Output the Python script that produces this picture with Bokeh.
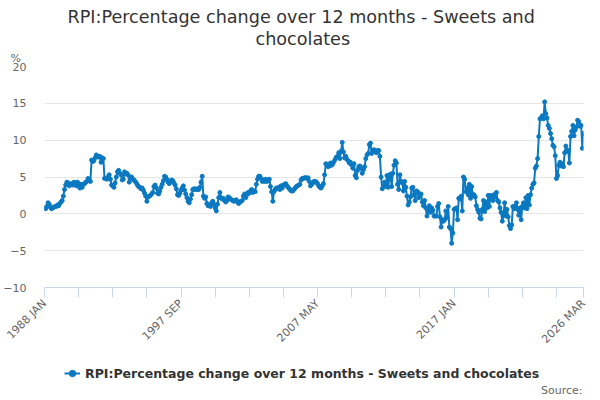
import math
from bokeh.plotting import figure
from bokeh.layouts import column
from bokeh.models import (Range1d, FixedTicker, Title, Label, Legend, LegendItem,
                          ColumnDataSource)
from bokeh.embed import file_html
from bokeh.resources import INLINE

MONTHS = ["JAN", "FEB", "MAR", "APR", "MAY", "JUN",
          "JUL", "AUG", "SEP", "OCT", "NOV", "DEC"]
START_YEAR = 1988

vals_1988_1995 = [
    0.8, 0.7, 1.0, 1.5, 1.3, 0.9, 0.7, 0.8, 0.9, 1.0, 1.0, 1.2,
    1.1, 1.4, 1.6, 1.8, 2.4, 3.3, 3.9, 4.3, 4.2, 3.8, 4.0, 4.1,
    3.9, 4.3, 4.2, 3.8, 4.3, 4.1, 3.5, 4.0, 3.6, 4.0, 4.1, 4.3,
    4.4, 4.8, 4.5, 4.4, 7.3, 7.1, 7.2, 7.6, 8.0, 7.8, 7.7, 7.8,
    7.0, 7.6, 7.5, 4.8, 4.8, 4.7, 5.0, 5.3, 4.7, 3.9, 3.8, 3.6,
    4.2, 5.0, 5.7, 5.9, 5.5, 5.3, 4.6, 4.7, 5.7, 5.4, 5.5, 5.3,
    4.3, 4.8, 5.0, 4.7, 4.6, 4.4, 4.2, 3.9, 3.7, 3.6, 3.4, 3.5,
    3.2, 2.8, 2.4, 1.7, 2.3, 2.4, 2.5, 2.7, 2.9, 3.7, 3.9, 3.5,
]
vals_1996_2003 = [
    2.8, 2.7, 3.1, 3.6, 4.0, 4.5, 5.1, 5.0, 4.7, 4.3, 4.1, 4.4,
    4.6, 4.5, 4.2, 3.9, 3.4, 2.6, 2.5, 2.8, 3.2, 3.5, 3.8, 3.2,
    2.7, 2.2, 1.7, 1.5, 2.0, 2.6, 3.3, 3.4, 3.3, 3.4, 3.3, 3.3,
    3.6, 4.3, 5.1, 2.4, 2.1, 2.3, 1.4, 1.1, 1.2, 1.0, 1.5, 1.7,
    1.3, 0.8, 0.4, 1.3, 2.2, 2.9, 2.2, 2.0, 2.1, 1.8, 1.6, 1.8,
    2.3, 2.2, 2.0, 1.9, 1.8, 1.7, 1.8, 1.9, 1.6, 1.4, 1.6, 1.7,
    1.8, 2.4, 2.7, 2.2, 2.6, 2.9, 2.8, 3.1, 3.3, 2.9, 3.1, 3.0,
    4.0, 4.7, 5.1, 5.1, 4.8, 4.4, 4.6, 4.4, 4.7, 4.4, 4.5, 4.7,
]
vals_2004_2011 = [
    3.7, 3.0, 1.7, 3.0, 3.3, 3.5, 3.4, 3.6, 3.3, 3.8, 3.5, 3.9,
    4.0, 4.1, 3.8, 3.6, 3.4, 3.2, 3.1, 3.1, 3.3, 3.5, 3.7, 3.8,
    3.9, 4.0, 4.6, 4.8, 4.8, 4.9, 4.9, 4.8, 4.9, 4.4, 3.8, 4.0,
    4.2, 4.4, 4.4, 4.3, 4.1, 3.8, 3.6, 3.5, 3.8, 4.1, 5.3, 6.8,
    6.7, 6.4, 6.5, 6.9, 6.6, 6.8, 7.1, 7.4, 7.7, 7.8, 8.3, 7.5,
    8.5, 9.7, 8.4, 7.6, 7.8, 7.4, 7.2, 6.9, 7.0, 6.6, 6.2, 6.8,
    5.2, 4.9, 5.9, 6.4, 6.5, 6.2, 5.5, 6.0, 6.4, 7.5, 8.0, 8.2,
    9.4, 9.6, 8.2, 8.6, 8.7, 8.5, 8.3, 8.6, 8.6, 7.8, 5.0, 3.4,
]
vals_2012_2019 = [
    3.8, 4.3, 3.7, 5.2, 3.6, 4.8, 5.4, 3.7, 5.5, 6.6, 7.2, 6.9,
    4.0, 3.3, 5.3, 4.4, 4.2, 3.1, 4.4, 3.6, 2.4, 1.2, 1.6, 2.3,
    3.5, 3.6, 2.6, 1.8, 3.1, 3.0, 2.2, 2.6, 2.7, 1.6, 1.1, 1.8,
    0.8, -0.3, 0.3, 1.1, 0.2, 0.8, 0.5, -0.3, -0.3, -0.3, 1.0, 1.4,
    -0.4, -1.8, -0.8, -1.0, -0.8, 0.4, -0.5, 1.0, -1.8, -2.0, -4.0, -2.6,
    0.6, 0.7, 0.8, -0.8, 2.1, 2.0, 2.4, 0.4, 5.0, 4.7, 3.0, 3.5,
    2.6, 4.0, 2.1, 3.7, 2.5, 2.6, 2.3, 1.1, 0.6, 0.2, -0.6, -0.7,
    0.6, 1.8, 0.3, 1.6, 0.8, 2.5, 1.0, 2.5, 2.4, 1.8, 2.6, 2.3,
]
vals_2020_2026 = [
    2.9, 1.8, 1.6, 0.8, 0.2, -1.0, -0.2, 1.5, -0.3, 0.6, -0.4, -1.6,
    -2.0, -1.5, 1.0, 0.7, 1.0, 1.5, 0.6, -0.2, 0.8, -0.8, 1.0, 1.5,
    0.8, 2.2, 0.7, 2.5, 1.2, 2.6, 3.5, 4.0, 4.2, 6.2, 6.5, 7.5,
    10.5, 12.9, 13.0, 13.3, 12.9, 15.2, 13.6, 13.0, 12.0, 11.6, 10.9, 10.2,
    9.3, 9.1, 7.9, 4.8, 5.2, 6.6, 7.0, 6.5, 6.8, 6.4, 8.3, 9.2,
    8.5, 8.6, 6.9, 10.5, 11.2, 12.0, 10.6, 11.4, 11.8, 12.7, 12.5, 11.9,
    12.0, 8.9, 10.9,
]

values = vals_1988_1995 + vals_1996_2003 + vals_2004_2011 + vals_2012_2019 + vals_2020_2026
categories = [f"{START_YEAR + i // 12} {MONTHS[i % 12]}" for i in range(len(values))]
idx = list(range(len(values)))

SERIES_NAME = "RPI:Percentage change over 12 months - Sweets and chocolates"
y_ticks = [-10, -5, 0, 5, 10, 15, 20]
tick_step = 29
label_every = 4
n = len(values)
x_ticks = list(range(0, n, tick_step)) + [n - 1]
x_labels = {}
for k, t in enumerate(x_ticks):
    if t == n - 1 or (k % label_every == 0):
        x_labels[t] = categories[t]
    else:
        x_labels[t] = ""

FONT = "DejaVu Sans"
COLOR = "#0b79c1"

src = ColumnDataSource(dict(x=idx, y=values, cat=categories))

# ---------------- main chart ----------------
p = figure(width=592, height=353, output_backend="svg", toolbar_location=None,
           x_range=Range1d(0, n - 1), y_range=Range1d(-10, 20),
           min_border_left=35, min_border_right=9, min_border_top=66,
           min_border_bottom=60)
p.outline_line_color = None
p.background_fill_color = "white"

# header rows, closest to the plot first
p.add_layout(Title(text="%", align="left", offset=-34, text_font=FONT,
                   text_font_size="11px", text_font_style="normal",
                   text_color="#666666", standoff=3), "above")
p.add_layout(Title(text="chocolates", align="left", offset=211, text_font=FONT,
                   text_font_size="17.6px", text_font_style="normal",
                   text_color="#333333", standoff=0), "above")
p.add_layout(Title(text="RPI:Percentage change over 12 months - Sweets and",
                   align="left", offset=23, text_font=FONT, text_font_size="17.6px",
                   text_font_style="normal", text_color="#333333", standoff=0), "above")

line = p.line("x", "y", source=src, line_color=COLOR, line_width=2)
dots = p.scatter("x", "y", source=src, size=4, fill_color=COLOR, line_color=COLOR)

p.xgrid.grid_line_color = None
p.ygrid.grid_line_color = "#e6e6e6"
p.ygrid.ticker = FixedTicker(ticks=y_ticks)

p.yaxis.ticker = FixedTicker(ticks=y_ticks)
p.yaxis.axis_line_color = None
p.yaxis.major_tick_line_color = None
p.yaxis.minor_tick_line_color = None
p.yaxis.major_label_text_font = FONT
p.yaxis.major_label_text_font_size = "11px"
p.yaxis.major_label_text_color = "#666666"
p.yaxis.major_label_standoff = 12

p.xaxis.ticker = FixedTicker(ticks=x_ticks)
p.xaxis.major_label_overrides = x_labels
p.xaxis.axis_line_color = "#ccd6eb"
p.xaxis.major_tick_line_color = "#ccd6eb"
p.xaxis.major_tick_out = 10
p.xaxis.major_tick_in = 0
p.xaxis.minor_tick_line_color = None
p.xaxis.major_label_orientation = math.pi / 4
p.xaxis.major_label_text_font = FONT
p.xaxis.major_label_text_font_size = "11px"
p.xaxis.major_label_text_color = "#666666"
p.xaxis.major_label_standoff = 4

# ---------------- legend / credits strip ----------------
# pixel-like coordinates (frame is aligned with the chart's frame, 540 px wide),
# offset so that the series itself lies outside this strip
p2 = figure(width=592, height=45, output_backend="svg", toolbar_location=None,
            x_range=Range1d(1000, 1540), y_range=Range1d(1000, 1045),
            x_axis_type=None, y_axis_type=None, min_border=0)
p2.outline_line_color = None
p2.grid.visible = False
line2 = p2.line("x", "y", source=src, line_color=COLOR, line_width=2)
dots2 = p2.scatter("x", "y", source=src, size=4, fill_color=COLOR, line_color=COLOR)

legend = Legend(items=[LegendItem(label=SERIES_NAME, renderers=[line2, dots2])],
                location=(20, 17), orientation="horizontal",
                label_text_font=FONT, label_text_font_size="12.5px",
                label_text_font_style="bold", label_text_color="#333333",
                glyph_width=16, glyph_height=16, label_standoff=5,
                padding=0, margin=0, border_line_color=None,
                background_fill_alpha=0)
p2.add_layout(legend, "center")

p2.add_layout(Label(x=1539, y=1008, text="Source:", text_font=FONT,
                    text_font_size="11px", text_color="#666666",
                    text_align="right", text_baseline="middle"))

layout = column(p, p2, spacing=0)
open("out.html", "w").write(file_html(layout, INLINE))
